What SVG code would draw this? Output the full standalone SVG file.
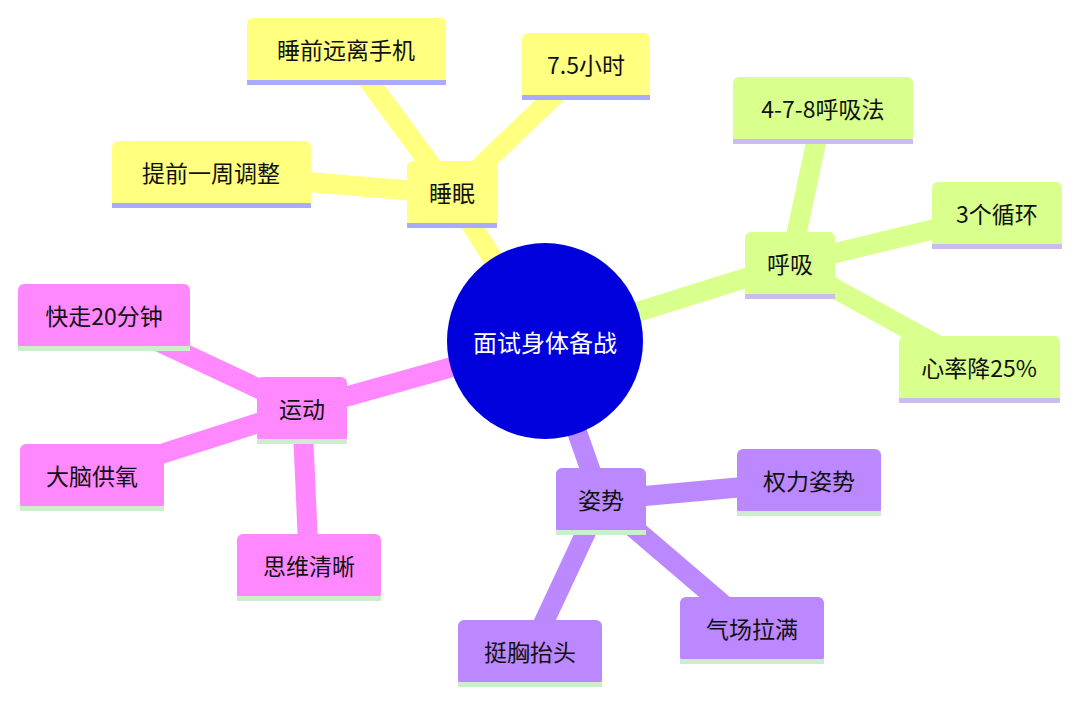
<svg xmlns="http://www.w3.org/2000/svg" width="1080" height="701" viewBox="0 0 1080 701">
<style>
text{font-family:"Noto Sans CJK SC","Liberation Sans",sans-serif;font-size:23px;fill:#111;text-anchor:middle;dominant-baseline:central}
.c line{stroke-width:20;stroke-linecap:butt}
.y{fill:#ffff80}.yl{fill:#aaaaff}
.g{fill:#d9ff8c}.gl{fill:#ccbbee}
.p{fill:#ff88ff}.pl{fill:#cceecc}
.v{fill:#bb88ff}.vl{fill:#cceecc}
</style>
<rect width="1080" height="701" fill="#fff"/>
<g class="c">
<g stroke="#ffff80">
<line x1="545" y1="341" x2="452" y2="194"/>
<line x1="452" y1="194" x2="211" y2="174"/>
<line x1="452" y1="194" x2="346" y2="50"/>
<line x1="452" y1="194" x2="586" y2="65"/>
</g>
<g stroke="#d9ff8c">
<line x1="545" y1="341" x2="790" y2="264"/>
<line x1="790" y1="264" x2="823" y2="110"/>
<line x1="790" y1="264" x2="997" y2="214"/>
<line x1="790" y1="264" x2="979" y2="368"/>
</g>
<g stroke="#bb88ff">
<line x1="545" y1="341" x2="601" y2="500"/>
<line x1="601" y1="500" x2="809" y2="481"/>
<line x1="601" y1="500" x2="752" y2="629"/>
<line x1="601" y1="500" x2="530" y2="652"/>
</g>
<g stroke="#ff88ff">
<line x1="545" y1="341" x2="302" y2="409"/>
<line x1="302" y1="409" x2="104" y2="316"/>
<line x1="302" y1="409" x2="92" y2="476"/>
<line x1="302" y1="409" x2="309" y2="566"/>
</g>
</g>
<g id="center"><circle cx="545" cy="341" r="98" fill="#0000dd"/><text x="545" y="341" style="fill:#fff;font-size:24px">面试身体备战</text></g>
<g id="n-sleep"><rect class="y" x="407" y="161" width="90" height="66" rx="6"/><rect class="yl" x="407" y="223" width="90" height="5"/><text x="452" y="192">睡眠</text></g>
<g id="n-s1"><rect class="y" x="112" y="141" width="199" height="66" rx="6"/><rect class="yl" x="112" y="203" width="199" height="5"/><text x="211" y="172">提前一周调整</text></g>
<g id="n-s2"><rect class="y" x="247" y="18" width="199" height="66" rx="6"/><rect class="yl" x="247" y="80" width="199" height="5"/><text x="346" y="49">睡前远离手机</text></g>
<g id="n-s3"><rect class="y" x="522" y="33" width="128" height="66" rx="6"/><rect class="yl" x="522" y="95" width="128" height="5"/><text x="586" y="64">7.5小时</text></g>
<g id="n-breath"><rect class="g" x="745" y="232" width="90" height="66" rx="6"/><rect class="gl" x="745" y="294" width="90" height="5"/><text x="790" y="263">呼吸</text></g>
<g id="n-b1"><rect class="g" x="733" y="77" width="180" height="66" rx="6"/><rect class="gl" x="733" y="139" width="180" height="5"/><text x="823" y="108">4-7-8呼吸法</text></g>
<g id="n-b2"><rect class="g" x="932" y="182" width="130" height="66" rx="6"/><rect class="gl" x="932" y="244" width="130" height="5"/><text x="997" y="213">3个循环</text></g>
<g id="n-b3"><rect class="g" x="899" y="336" width="161" height="66" rx="6"/><rect class="gl" x="899" y="398" width="161" height="5"/><text x="979" y="367">心率降25%</text></g>
<g id="n-pose"><rect class="v" x="556" y="468" width="90" height="66" rx="6"/><rect class="vl" x="556" y="530" width="90" height="5"/><text x="601" y="499">姿势</text></g>
<g id="n-p1"><rect class="v" x="737" y="449" width="144" height="66" rx="6"/><rect class="vl" x="737" y="511" width="144" height="5"/><text x="809" y="480">权力姿势</text></g>
<g id="n-p2"><rect class="v" x="680" y="597" width="144" height="66" rx="6"/><rect class="vl" x="680" y="659" width="144" height="5"/><text x="752" y="628">气场拉满</text></g>
<g id="n-p3"><rect class="v" x="458" y="620" width="144" height="66" rx="6"/><rect class="vl" x="458" y="682" width="144" height="5"/><text x="530" y="651">挺胸抬头</text></g>
<g id="n-sport"><rect class="p" x="257" y="377" width="90" height="66" rx="6"/><rect class="pl" x="257" y="439" width="90" height="5"/><text x="302" y="408">运动</text></g>
<g id="n-m1"><rect class="p" x="18" y="284" width="172" height="66" rx="6"/><rect class="pl" x="18" y="346" width="172" height="5"/><text x="104" y="315">快走20分钟</text></g>
<g id="n-m2"><rect class="p" x="20" y="444" width="144" height="66" rx="6"/><rect class="pl" x="20" y="506" width="144" height="5"/><text x="92" y="475">大脑供氧</text></g>
<g id="n-m3"><rect class="p" x="237" y="534" width="144" height="66" rx="6"/><rect class="pl" x="237" y="596" width="144" height="5"/><text x="309" y="565">思维清晰</text></g>
</svg>
